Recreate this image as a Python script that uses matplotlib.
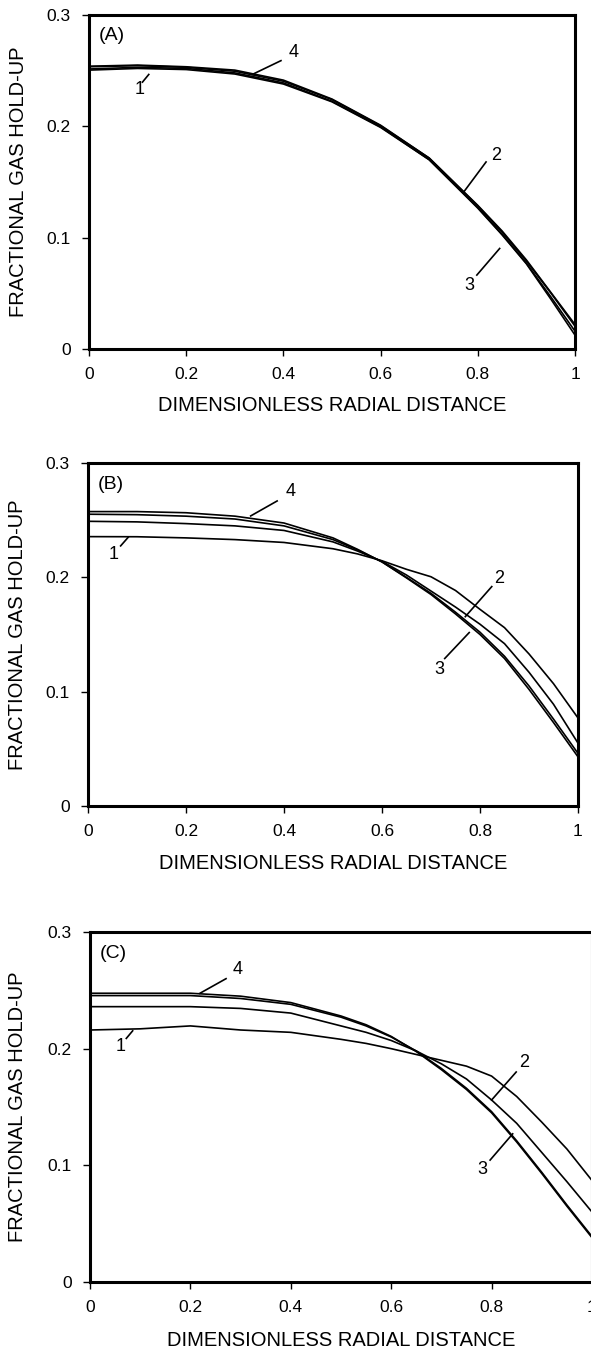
import numpy as np
import matplotlib
matplotlib.use('Agg')
import matplotlib.pyplot as plt

plt.rcParams['font.family'] = ['Liberation Sans', 'DejaVu Sans']

# radial positions and hold-up profiles, panel A
xa = [0, 0.1, 0.2, 0.3, 0.4, 0.5, 0.6, 0.7, 0.8, 0.85, 0.9, 0.95, 1.0]
a1 = [0.2505, 0.252, 0.251, 0.247, 0.238, 0.222, 0.199, 0.170, 0.127, 0.103, 0.077, 0.047, 0.016]
a2 = [0.2535, 0.2545, 0.253, 0.2495, 0.2405, 0.224, 0.2005, 0.1715, 0.129, 0.106, 0.080, 0.051, 0.022]
a3 = [0.2515, 0.253, 0.252, 0.248, 0.239, 0.2225, 0.1995, 0.170, 0.1265, 0.1025, 0.0765, 0.045, 0.0125]
a4 = [0.254, 0.255, 0.2535, 0.2505, 0.2415, 0.2245, 0.201, 0.1715, 0.1285, 0.105, 0.079, 0.0505, 0.0205]

# panel B
xb = [0, 0.1, 0.2, 0.3, 0.4, 0.5, 0.55, 0.6, 0.65, 0.7, 0.75, 0.8, 0.85, 0.9, 0.95, 1.0]
b1 = [0.2356, 0.2355, 0.2345, 0.233, 0.2305, 0.225, 0.2205, 0.2145, 0.207, 0.2005, 0.1885, 0.172, 0.156, 0.133, 0.107, 0.077]
b2 = [0.249, 0.2485, 0.247, 0.245, 0.241, 0.231, 0.223, 0.214, 0.202, 0.188, 0.174, 0.159, 0.142, 0.117, 0.089, 0.055]
b3 = [0.2552, 0.2548, 0.2535, 0.251, 0.245, 0.233, 0.224, 0.2135, 0.2, 0.186, 0.1695, 0.152, 0.131, 0.105, 0.076, 0.046]
b4 = [0.2575, 0.2575, 0.2565, 0.2535, 0.2475, 0.2345, 0.2245, 0.2135, 0.1995, 0.185, 0.168, 0.150, 0.129, 0.102, 0.073, 0.043]

# panel C
xc = [0, 0.1, 0.2, 0.3, 0.4, 0.5, 0.55, 0.6, 0.65, 0.7, 0.75, 0.8, 0.85, 0.9, 0.95, 1.0]
c1 = [0.216, 0.217, 0.2195, 0.216, 0.214, 0.208, 0.2045, 0.2, 0.195, 0.19, 0.185, 0.1765, 0.159, 0.137, 0.114, 0.087]
c2 = [0.236, 0.236, 0.236, 0.2345, 0.2305, 0.2195, 0.214, 0.207, 0.198, 0.187, 0.174, 0.156, 0.136, 0.111, 0.086, 0.060]
c3 = [0.2455, 0.2455, 0.2455, 0.243, 0.238, 0.227, 0.2195, 0.21, 0.198, 0.183, 0.166, 0.146, 0.121, 0.094, 0.066, 0.039]
c4 = [0.2475, 0.2475, 0.2475, 0.245, 0.2395, 0.228, 0.2205, 0.2105, 0.1975, 0.182, 0.165, 0.145, 0.120, 0.093, 0.065, 0.038]

curve_names = ['1', '2', '3', '4']
xticks = [0, 0.2, 0.4, 0.6, 0.8, 1.0]
xticklabels = ['0', '0.2', '0.4', '0.6', '0.8', '1']
yticks = [0, 0.1, 0.2, 0.3]
yticklabels = ['0', '0.1', '0.2', '0.3']

# label text position and leader line (from, to) for each curve
labels_a = {'4': ((0.422, 0.2667), (0.395, 0.259), (0.336, 0.2466)),
            '1': ((0.104, 0.233), (0.11, 0.2397), (0.123, 0.2466)),
            '2': ((0.837, 0.174), (0.817, 0.168), (0.771, 0.141)),
            '3': ((0.782, 0.0574), (0.798, 0.0664), (0.845, 0.0903))}
labels_b = {'4': ((0.4127, 0.275), (0.386, 0.2668), (0.332, 0.2537)),
            '1': ((0.0527, 0.2196), (0.0666, 0.2275), (0.082, 0.235)),
            '2': ((0.8397, 0.1992), (0.824, 0.1919), (0.770, 0.1656)),
            '3': ((0.7165, 0.119), (0.728, 0.129), (0.778, 0.1517))}
labels_c = {'4': ((0.2938, 0.268), (0.271, 0.260), (0.2187, 0.2474)),
            '1': ((0.061, 0.2016), (0.0723, 0.2088), (0.085, 0.2153)),
            '2': ((0.8645, 0.188), (0.849, 0.180), (0.80, 0.156)),
            '3': ((0.782, 0.096), (0.797, 0.1045), (0.842, 0.127))}

W, H = 591, 1354
fig = plt.figure(figsize=(W / 100, H / 100), dpi=100)

# axes boxes in pixels: left, right, top, bottom
boxes = [(89, 575, 15, 349), (88, 578, 463, 806), (90, 592, 932, 1282)]
panels = [('(A)', xa, [a1, a2, a3, a4], labels_a),
          ('(B)', xb, [b1, b2, b3, b4], labels_b),
          ('(C)', xc, [c1, c2, c3, c4], labels_c)]

for (l, r, t, b), (tag, x, curves, labs) in zip(boxes, panels):
    ax = fig.add_axes([l / W, 1 - b / H, (r - l) / W, (b - t) / H])
    for y in curves:
        ax.plot(x, y, color='black', lw=1.2)
    for name in curve_names:
        (tx, ty), (x0, y0), (x1, y1) = labs[name]
        ax.plot([x0, x1], [y0, y1], color='black', lw=1.2)
        ax.text(tx, ty, name, fontsize=13, ha='center', va='center')
    ax.text(0.02, 0.2815, tag, fontsize=14, ha='left', va='center')

    ax.set_xlim(0, 1)
    ax.set_ylim(0, 0.3)
    ax.set_xticks(xticks)
    ax.set_xticklabels(xticklabels)
    ax.set_yticks(yticks)
    ax.set_yticklabels(yticklabels)
    ax.tick_params(direction='out', length=5, width=1, labelsize=12.5, pad=8)
    for s in ax.spines.values():
        s.set_linewidth(2.2)
    ax.set_xlabel('DIMENSIONLESS RADIAL DISTANCE', fontsize=14.5)
    ax.set_ylabel('FRACTIONAL GAS HOLD-UP', fontsize=14.5)
    ax.yaxis.set_label_coords(-0.125, 0.5)
    ax.xaxis.set_label_coords(0.5, -0.14)

fig.savefig('out.png', dpi=100)
